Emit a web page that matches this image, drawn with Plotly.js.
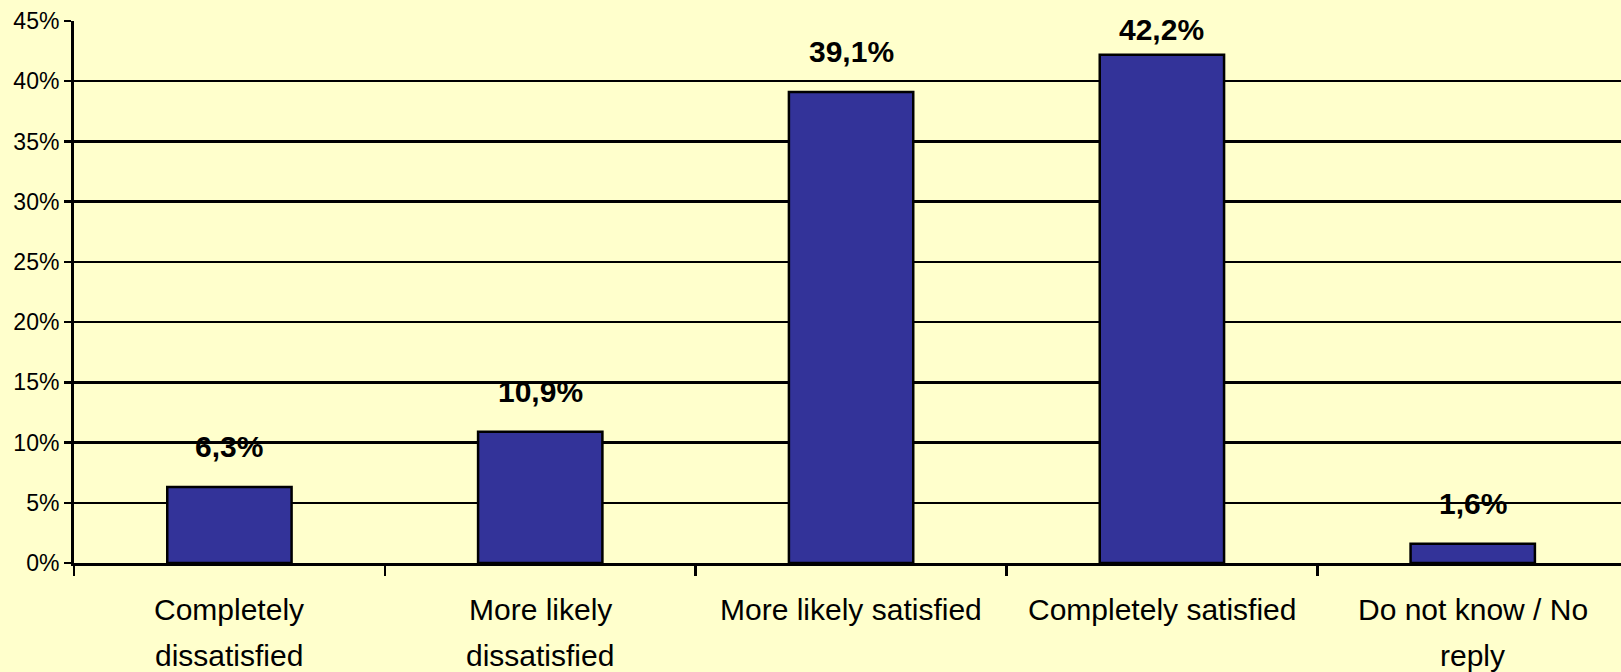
<!DOCTYPE html>
<html>
<head>
<meta charset="utf-8">
<script src="https://cdn.plot.ly/plotly-3.0.1.min.js"></script>
<style>
  html, body { margin: 0; padding: 0; background: #FFFFCC; }
  #chart { width: 1621px; height: 672px; }
</style>
</head>
<body>
<div id="chart"></div>
<script>
const categories = [
  "Completely<br>dissatisfied",
  "More likely<br>dissatisfied",
  "More likely satisfied",
  "Completely satisfied",
  "Do not know / No<br>reply"
];
const values = [6.3, 10.9, 39.1, 42.2, 1.6];
const yTickValues = [0, 5, 10, 15, 20, 25, 30, 35, 40, 45];

const fontFamily = '"Liberation Sans", Arial, Helvetica, sans-serif';
const bg = '#FFFFCC';

const W = 1621, H = 672;
const margin = { l: 74, r: 0, t: 21, b: 109 };
const yMax = 45;
const plotH = H - margin.t - margin.b;
const pxPerUnit = plotH / yMax;

const trace = {
  type: 'bar',
  x: categories,
  y: values,
  marker: { color: '#333399', line: { color: '#000000', width: 2.5 } },
  hoverinfo: 'skip'
};

// value labels above bars: baseline ~29px above bar top, but kept inside the chart
const labelGap = 29;
const minBaseline = 41;
const valueLabels = values.map((v, i) => {
  const barTop = margin.t + (yMax - v) * pxPerUnit;
  const gap = Math.min(labelGap, barTop - minBaseline);
  return {
    x: categories[i],
    y: v,
    xref: 'x',
    yref: 'y',
    text: v.toFixed(1).replace('.', ',') + '%',
    showarrow: false,
    yanchor: 'bottom',
    yshift: gap - 7,
    font: { family: fontFamily, size: 30, color: '#000000', weight: 'bold' }
  };
});

// category labels, one annotation per line for wider line spacing
const catLabels = [];
categories.forEach((c) => {
  c.split('<br>').forEach((line, k) => {
    catLabels.push({
      x: c,
      y: 0,
      xref: 'x',
      yref: 'paper',
      text: line,
      showarrow: false,
      yanchor: 'top',
      yshift: -28 - k * 46,
      font: { family: fontFamily, size: 30, color: '#000000' }
    });
  });
});

const layout = {
  width: W,
  height: H,
  paper_bgcolor: bg,
  plot_bgcolor: bg,
  margin: margin,
  showlegend: false,
  bargap: 0.6,
  font: { family: fontFamily, color: '#000000' },
  xaxis: {
    type: 'category',
    range: [-0.5, 4.477],
    autorange: false,
    showgrid: false,
    zeroline: false,
    showline: true,
    linecolor: '#000000',
    linewidth: 3,
    ticks: 'outside',
    tickson: 'boundaries',
    ticklen: 10,
    tickwidth: 2.5,
    tickcolor: '#000000',
    showticklabels: false
  },
  yaxis: {
    range: [0, yMax],
    autorange: false,
    tickvals: yTickValues,
    ticktext: yTickValues.map(v => v + '%'),
    showgrid: true,
    gridcolor: '#000000',
    gridwidth: 2.5,
    zeroline: false,
    showline: true,
    linecolor: '#000000',
    linewidth: 3,
    ticks: 'outside',
    ticklen: 7,
    tickwidth: 2.5,
    tickcolor: '#000000',
    ticklabelstandoff: 0,
    tickfont: { family: fontFamily, size: 23, color: '#000000' }
  },
  annotations: valueLabels.concat(catLabels)
};

Plotly.newPlot('chart', [trace], layout, { displayModeBar: false, staticPlot: true });
</script>
</body>
</html>
